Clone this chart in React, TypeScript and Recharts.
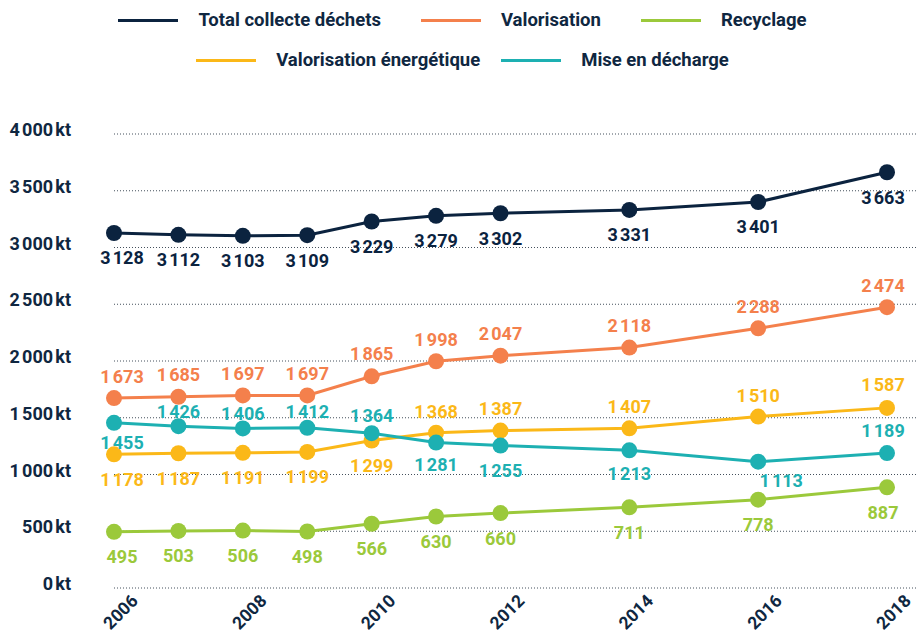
import React from 'react';
import { LineChart, Line, XAxis, YAxis, CartesianGrid, LabelList } from 'recharts';

if (typeof document !== 'undefined') {
  document.body.style.margin = '0';
}

const years = [2006, 2007, 2008, 2009, 2010, 2011, 2012, 2014, 2016, 2018];
const totalCollecte = [3128, 3112, 3103, 3109, 3229, 3279, 3302, 3331, 3401, 3663];
const valorisation = [1673, 1685, 1697, 1697, 1865, 1998, 2047, 2118, 2288, 2474];
const recyclage = [495, 503, 506, 498, 566, 630, 660, 711, 778, 887];
const valorisationEnergetique = [1178, 1187, 1191, 1199, 1299, 1368, 1387, 1407, 1510, 1587];
const miseEnDecharge = [1455, 1426, 1406, 1412, 1364, 1281, 1255, 1213, 1113, 1189];

const xTicks = [2006, 2008, 2010, 2012, 2014, 2016, 2018];
const yTicks = [0, 500, 1000, 1500, 2000, 2500, 3000, 3500, 4000];

const seriesNames = {
  total: 'Total collecte déchets',
  valo: 'Valorisation',
  recy: 'Recyclage',
  energ: 'Valorisation énergétique',
  mise: 'Mise en décharge',
};

// styling: label vertical offsets (px) relative to point
const labelDy = {
  total: [25, 25, 25, 25, 25, 25, 25, 25, 25, 25],
  valo: [-22, -22, -22, -22, -23, -22, -22, -22, -22, -22],
  recy: [25, 25, 25, 25, 25, 25, 25, 25, 25, 25],
  energ: [25, 25, 25, 25, 25, -21, -22, -22, -21, -23],
  mise: [20, -15, -15, -16, -18, 22, 25, 23, 19, -23],
};
const labelDxMise = [0, 0, 0, 0, 0, 0, 0, 0, 23, 0];

const colors = {
  total: '#0b233f',
  valo: '#f4804c',
  recy: '#9bc93b',
  energ: '#fbb818',
  mise: '#1db0b2',
};

const TEXT = '#0f2741';
const FONT = 'Roboto, "Noto Sans", sans-serif';
const NS = '\u202F';

const fmt = (v: number) => {
  const s = String(v);
  if (v >= 1000) return s.slice(0, s.length - 3) + NS + s.slice(s.length - 3);
  return s;
};

const data = years.map((y, i) => ({
  year: y,
  total: totalCollecte[i],
  valo: valorisation[i],
  recy: recyclage[i],
  energ: valorisationEnergetique[i],
  mise: miseEnDecharge[i],
}));

const makeLabel = (key: keyof typeof labelDy) => (props: any) => {
  const { x, y, value, index } = props;
  if (x == null || y == null) return null;
  let dx = 0;
  if (index === 0) dx = 8;
  if (index === years.length - 1) dx = -4;
  if (key === 'mise') dx += labelDxMise[index] || 0;
  const dy = labelDy[key][index];
  return (
    <text
      x={x + dx}
      y={y + dy + 6.5}
      textAnchor="middle"
      fill={colors[key]}
      fontFamily={FONT}
      fontWeight={700}
      fontSize={18}
    >
      {fmt(value)}
    </text>
  );
};

const YTick = (props: any) => {
  const { x, y, payload } = props;
  return (
    <text x={x} y={y + 2} textAnchor="end" fill={TEXT} fontFamily={FONT} fontWeight={700} fontSize={18}>
      {fmt(payload.value) + NS + 'kt'}
    </text>
  );
};

const XTick = (props: any) => {
  const { x, y, payload } = props;
  const ax = x + 25;
  const ay = y + 14;
  return (
    <text
      x={ax}
      y={ay}
      textAnchor="end"
      fill={TEXT}
      fontFamily={FONT}
      fontWeight={700}
      fontSize={17.5}
      transform={`rotate(-45, ${ax}, ${ay})`}
    >
      {payload.value}
    </text>
  );
};

const LegendItem = ({ k }: { k: keyof typeof colors }) => (
  <div style={{ display: 'flex', alignItems: 'center', height: 20 }}>
    <div style={{ width: 60, height: 3, background: colors[k], marginRight: 20 }} />
    <span
      style={{
        fontFamily: FONT,
        fontWeight: 700,
        fontSize: 18.5,
        lineHeight: '20px',
        color: TEXT,
        whiteSpace: 'nowrap',
      }}
    >
      {seriesNames[k]}
    </span>
  </div>
);

const seriesKeys: (keyof typeof colors)[] = ['total', 'valo', 'recy', 'energ', 'mise'];

export default function App() {
  return (
    <div style={{ position: 'relative', width: 921, height: 634, background: '#fff' }}>
      <LineChart
        width={921}
        height={634}
        data={data}
        margin={{ top: 134, right: 4, left: 0, bottom: 0 }}
      >
        <CartesianGrid horizontal vertical={false} stroke="#44505c" strokeDasharray="1 2" />
        <XAxis
          dataKey="year"
          type="number"
          domain={[2006, 2018]}
          ticks={xTicks}
          padding={{ left: 0, right: 30 }}
          axisLine={false}
          tickLine={false}
          tickSize={0}
          tickMargin={0}
          height={46}
          tick={<XTick />}
          interval={0}
        />
        <YAxis
          type="number"
          domain={[0, 4000]}
          ticks={yTicks}
          axisLine={false}
          tickLine={false}
          tickSize={0}
          tickMargin={43}
          width={114}
          tick={<YTick />}
          interval={0}
        />
        {seriesKeys.map((k) => (
          <Line
            key={k}
            dataKey={k}
            name={seriesNames[k]}
            type="linear"
            stroke={colors[k]}
            strokeWidth={3}
            dot={{ r: 8, fill: colors[k], stroke: 'none' }}
            activeDot={false}
            isAnimationActive={false}
          >
            <LabelList dataKey={k} content={makeLabel(k)} />
          </Line>
        ))}
      </LineChart>
      <div style={{ position: 'absolute', left: 0, top: 10, width: 925, display: 'flex', justifyContent: 'center', gap: 40 }}>
        <LegendItem k="total" />
        <LegendItem k="valo" />
        <LegendItem k="recy" />
      </div>
      <div style={{ position: 'absolute', left: 0, top: 50, width: 925, display: 'flex', justifyContent: 'center', gap: 21 }}>
        <LegendItem k="energ" />
        <LegendItem k="mise" />
      </div>
    </div>
  );
}
